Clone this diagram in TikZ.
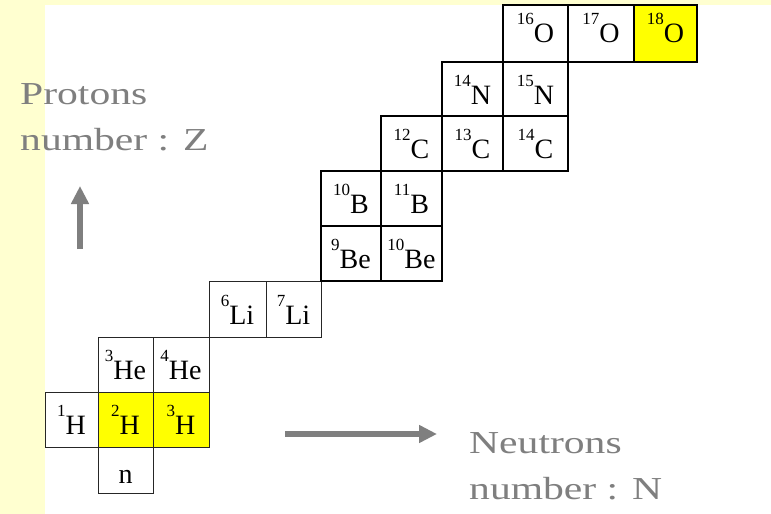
\documentclass[tikz,border=0pt]{standalone}
\usepackage{fontspec}
\setmainfont{Liberation Serif}
\newfontfamily\axisfont[FakeStretch=1.3]{Liberation Serif}
\usepackage{tikz}
\usetikzlibrary{arrows.meta}
\usepackage{xcolor}
\definecolor{slidebg}{RGB}{255, 255, 208}
\definecolor{axisgray}{RGB}{127, 127, 127}
\definecolor{hilite}{RGB}{255, 255, 0}

\newcommand{\nuc}[2]{\raisebox{18pt}{\fontsize{17}{17}\selectfont #1}#2}

\begin{document}
\begin{tikzpicture}[
  x=1pt, y=-1pt,
  cell/.style={draw, inner sep=0pt, minimum width=#1, minimum height=55pt,
    text height=30pt, text depth=0pt, font=\fontsize{28}{28}\selectfont},
  low/.style={line width=0.9pt, draw=black!85},
  high/.style={line width=1.8pt},
  axis/.style={line width=5.5pt, axisgray, -{Triangle[length=18pt, width=17pt]}},
  axislabel/.style={axisgray, align=left, inner sep=0pt,
    font=\axisfont\fontsize{32}{46}\selectfont}
]
  % --- Slide background ---
  \fill[slidebg] (0,0) rectangle (771,514);
  \fill[white] (45,5) rectangle (771,514);

  % --- Light nuclei: n, H, He, Li ---
  \node[cell=55pt, low, minimum height=46pt, text height=26pt] (n) at (125.5,470) {n};
  \node[cell=53pt, low] (h1) at (71.5,419.5) {\nuc{1}{H}};
  \node[cell=55pt, low, fill=hilite] (h2) at (125.5,419.5) {\nuc{2}{H}};
  \node[cell=56pt, low, fill=hilite] (h3) at (181,419.5) {\nuc{3}{H}};
  \node[cell=55pt, low] (he3) at (125.5,364.5) {\nuc{3}{He}};
  \node[cell=56pt, low] (he4) at (181,364.5) {\nuc{4}{He}};
  \node[cell=57pt, low, minimum height=56pt] (li6) at (237.5,309) {\nuc{6}{Li}};
  \node[cell=55pt, low, minimum height=56pt] (li7) at (293.5,309) {\nuc{7}{Li}};

  % --- Be, B ---
  \node[cell=60pt, high] (be9) at (351,253.5) {\nuc{9}{Be}};
  \node[cell=61pt, high] (be10) at (411.5,253.5) {\nuc{10}{Be}};
  \node[cell=60pt, high] (b10) at (351,198.5) {\nuc{10}{B}};
  \node[cell=61pt, high] (b11) at (411.5,198.5) {\nuc{11}{B}};

  % --- C, N ---
  \node[cell=61pt, high] (c12) at (411.5,143.5) {\nuc{12}{C}};
  \node[cell=61pt, high] (c13) at (472.5,143.5) {\nuc{13}{C}};
  \node[cell=65pt, high] (c14) at (535.5,143.5) {\nuc{14}{C}};
  \node[cell=61pt, high, minimum height=54pt] (n14) at (472.5,89) {\nuc{14}{N}};
  \node[cell=65pt, high, minimum height=54pt] (n15) at (535.5,89) {\nuc{15}{N}};

  % --- O ---
  \node[cell=65pt, high, minimum height=57pt, text depth=12pt] (o16) at (535.5,33.5) {\nuc{16}{O}};
  \node[cell=66pt, high, minimum height=57pt, text depth=12pt] (o17) at (601,33.5) {\nuc{17}{O}};
  \node[cell=63pt, high, minimum height=57pt, text depth=12pt, fill=hilite] (o18) at (665.5,33.5) {\nuc{18}{O}};

  % --- Axes ---
  \node[axislabel, anchor=base west] (zlabel) at (20,150) {Protons\\number : Z};
  \coordinate (zfoot) at (80,249);
  \coordinate (ztip) at (80,186);
  \draw[axis] (zfoot) -- (ztip);

  \node[axislabel, anchor=base west] (nlabel) at (469,499) {Neutrons\\number : N};
  \coordinate (nfoot) at (285,434);
  \coordinate (ntip) at (437,434);
  \draw[axis] (nfoot) -- (ntip);
\end{tikzpicture}
\end{document}
